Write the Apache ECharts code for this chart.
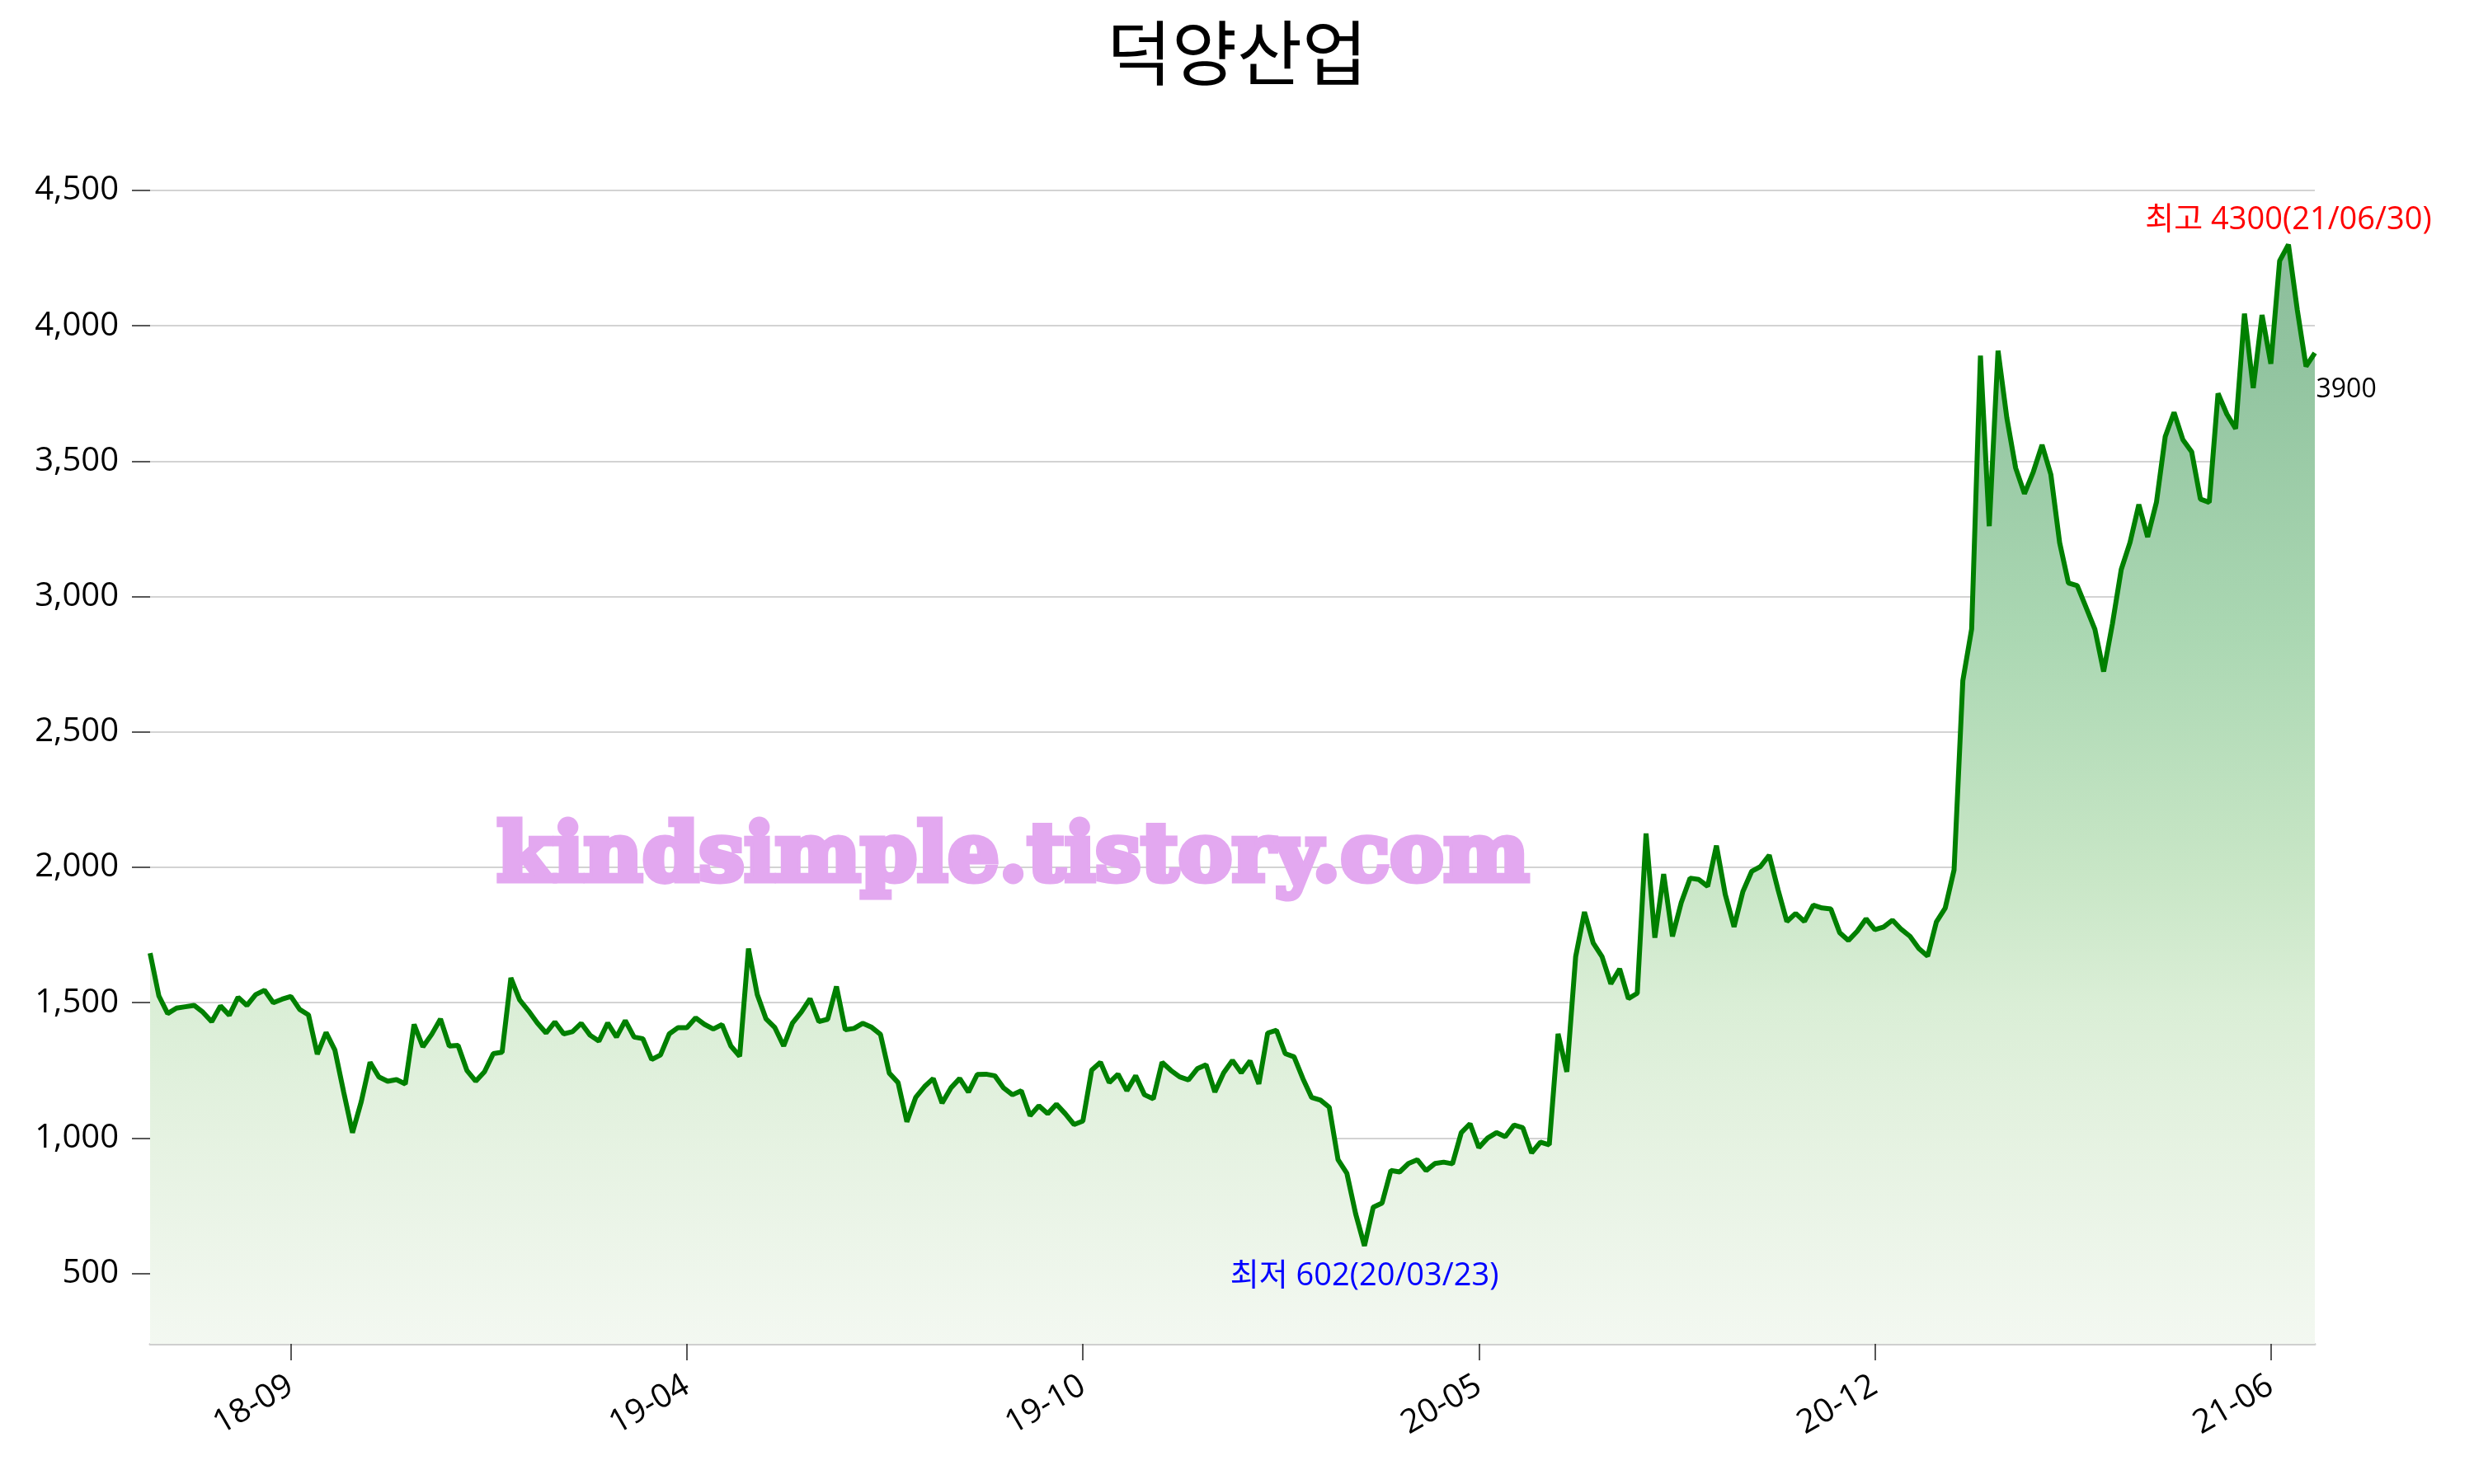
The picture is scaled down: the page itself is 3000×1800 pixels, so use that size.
<!DOCTYPE html>
<html>
<head>
<meta charset="utf-8">
<script src="https://cdn.jsdelivr.net/npm/echarts@6/dist/echarts.min.js"></script>
<style>
html,body{margin:0;padding:0;background:#fff;}
#chart{width:3000px;height:1800px;}
</style>
</head>
<body>
<div id="chart"></div>
<script>
const prices = [
1683,1525,1460,1480,1485,1490,1465,1430,1488,1454,
1520,1490,1530,1546,1500,1513,1523,1475,1455,1310,
1390,1325,1170,1020,1135,1280,1226,1210,1216,1200,
1420,1337,1383,1440,1340,1342,1250,1210,1245,1312,
1317,1592,1510,1470,1425,1388,1429,1385,1393,1424,
1380,1358,1425,1373,1434,1373,1367,1290,1307,1385,
1408,1408,1444,1420,1403,1419,1340,1302,1700,1530,
1440,1408,1340,1425,1465,1515,1430,1439,1560,1400,
1405,1424,1409,1383,1240,1205,1060,1150,1190,1220,
1129,1185,1220,1170,1235,1236,1230,1185,1160,1175,
1083,1119,1090,1125,1090,1050,1063,1251,1280,1205,
1236,1175,1230,1160,1145,1280,1250,1226,1215,1256,
1271,1170,1241,1287,1241,1285,1200,1388,1398,1312,
1300,1220,1150,1140,1114,920,870,720,602,745,
760,880,875,906,920,880,906,911,905,1020,
1053,965,1000,1020,1005,1048,1038,945,985,975,
1385,1245,1670,1835,1720,1670,1570,1625,1515,1535,
2125,1740,1975,1745,1870,1960,1955,1930,2080,1900,
1780,1910,1985,2003,2045,1917,1800,1830,1800,1860,
1850,1846,1759,1730,1764,1810,1770,1780,1805,1771,
1745,1700,1672,1799,1850,1990,2690,2880,3890,3260,
3908,3660,3475,3380,3460,3560,3451,3199,3050,3040,
2960,2880,2723,2900,3100,3200,3340,3220,3348,3591,
3680,3580,3535,3360,3348,3750,3674,3620,4045,3770,
4040,3860,4240,4300,4060,3850,3900
];
// x-axis tick positions (sample index) and their labels
const tickIndices = [16, 61, 106, 151, 196, 241];
const tickLabels = ['18-09', '19-04', '19-10', '20-05', '20-12', '21-06'];
const yTicks = [500, 1000, 1500, 2000, 2500, 3000, 3500, 4000, 4500];
// annotations
const highPoint = {index: 243, value: 4300, text: '최고 4300(21/06/30)'};
const lowPoint = {index: 138, value: 602, text: '최저 602(20/03/23)'};
const lastPoint = {index: 246, value: 3900, text: '3900'};
const titleText = '덕양산업';
const watermark = 'kindsimple.tistory.com';

const categories = prices.map((_, i) => String(i));

const FONT = '"Open Sans", "Noto Sans CJK KR", sans-serif';
const chart = echarts.init(document.getElementById('chart'), null, {renderer: 'canvas'});
chart.setOption({
  backgroundColor: '#ffffff',
  animation: false,
  title: {
    text: titleText,
    left: 'center',
    top: 16,
    textStyle: {fontSize: 86, fontWeight: 'normal', color: '#000', fontFamily: '"Noto Sans CJK KR", sans-serif'}
  },
  grid: {left: 182, right: 193, top: 231, bottom: 170, containLabel: false},
  xAxis: {
    type: 'category',
    data: categories,
    boundaryGap: false,
    axisLine: {show: true, lineStyle: {color: '#cfcfcf', width: 3}},
    axisTick: {
      show: true, length: 20, lineStyle: {color: '#222', width: 1.5},
      interval: (idx) => tickIndices.indexOf(idx) >= 0
    },
    axisLabel: {
      show: true, rotate: 30, margin: 48, fontSize: 40, color: '#000', fontFamily: FONT,
      interval: (idx) => tickIndices.indexOf(idx) >= 0,
      formatter: (val, idx) => { const k = tickIndices.indexOf(idx); return k >= 0 ? tickLabels[k] : ''; }
    },
    splitLine: {show: false}
  },
  yAxis: {
    type: 'value',
    min: 240,
    max: 4500,
    splitNumber: 9,
    axisLine: {show: false},
    axisTick: {show: true, length: 22, lineStyle: {color: '#222', width: 1.5}, customValues: yTicks},
    axisLabel: {
      show: true, margin: 38, fontSize: 40, color: '#000', fontFamily: FONT,
      showMinLabel: false, showMaxLabel: true,
      formatter: (v) => v.toLocaleString('en-US')
    },
    splitLine: {show: true, showMinLine: false, showMaxLine: true, lineStyle: {color: '#d3d3d3', width: 2}}
  },
  graphic: [{
    type: 'text',
    left: 599,
    top: 990,
    z: 100,
    style: {
      text: watermark,
      font: 'bold 98px "DejaVu Serif", serif',
      fill: '#e3a8f0',
      stroke: '#e3a8f0',
      lineWidth: 7
    }
  }],
  series: [{
    type: 'line',
    data: prices,
    symbol: 'none',
    smooth: false,
    lineStyle: {color: '#008000', width: 6},
    areaStyle: {
      opacity: 1,
      color: new echarts.graphic.LinearGradient(0, 0, 0, 1, [
        {offset: 0, color: '#8cbe9b'},
        {offset: 0.11, color: '#92c4a0'},
        {offset: 0.35, color: '#aad7b2'},
        {offset: 0.57, color: '#c8e6c6'},
        {offset: 0.69, color: '#daeed6'},
        {offset: 0.81, color: '#e5f2e1'},
        {offset: 1, color: '#f3f8f1'}
      ])
    },
    markPoint: {
      symbol: 'circle',
      symbolSize: 1,
      itemStyle: {color: 'rgba(0,0,0,0)'},
      data: [
        {coord: [String(highPoint.index), highPoint.value],
         label: {show: true, position: 'top', distance: 10, formatter: highPoint.text, color: '#ff0000', fontSize: 38, fontFamily: FONT}},
        {coord: [String(lowPoint.index), lowPoint.value],
         label: {show: true, position: 'bottom', distance: 18, formatter: lowPoint.text, color: '#0000ff', fontSize: 38, fontFamily: FONT}},
        {coord: [String(lastPoint.index), lastPoint.value],
         label: {show: true, position: [2, 29], align: 'left', verticalAlign: 'top', formatter: lastPoint.text, color: '#000', fontSize: 32, fontFamily: FONT}}
      ]
    }
  }]
});
</script>
</body>
</html>
